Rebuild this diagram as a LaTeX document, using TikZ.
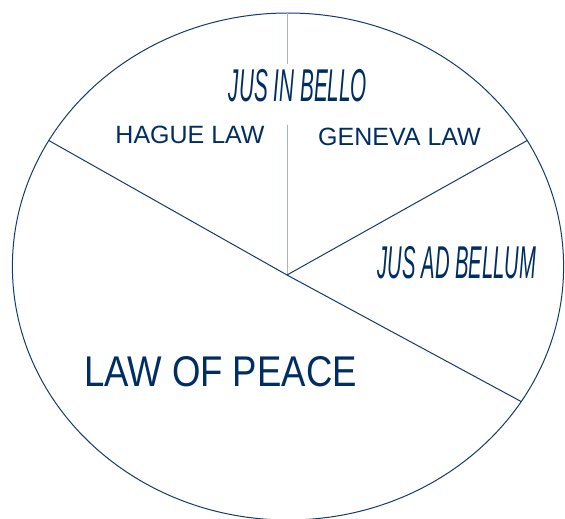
\documentclass[tikz,border=0pt]{standalone}
\usepackage{graphicx}
\usepackage{fontspec}
\setmainfont{Liberation Sans}
\usepackage{xcolor}
\usepackage{tikz}
\usetikzlibrary{calc}
\definecolor{lawnavy}{RGB}{0,46,98}
\definecolor{rimblue}{RGB}{20,58,110}
\definecolor{splitgray}{RGB}{165,180,198}
\tikzstyle{rim} = [draw=rimblue, line width=1pt]
\tikzstyle{split} = [draw=splitgray, line width=0.7pt]
\tikzstyle{lawtext} = [text=lawnavy, inner sep=0pt, anchor=base]
\newcommand{\squeeze}[2]{\scalebox{#1}[1]{#2}}

\begin{document}
\begin{tikzpicture}[x=1pt, y=-1pt]
            \useasboundingbox (0,0) rectangle (565,519);
            % outer ring
            \coordinate (mid) at (288,266.5);
            \draw[rim] (mid) ellipse [x radius=275.6pt, y radius=253.5pt];
            \coordinate (hub) at (287,275);
            \coordinate (rimtop) at (287,13);
            \coordinate (rimleft) at ($(mid)+(150.2:275.6pt and 253.5pt)$);
            \coordinate (rimright) at ($(mid)+(29.8:275.6pt and 253.5pt)$);
            \coordinate (rimlow) at ($(mid)+(-32.2:275.6pt and 253.5pt)$);
            \coordinate (gap) at (287,125);

            % labels
            \node[lawtext, font=\fontsize{46}{46}\selectfont\itshape] (inbello) at (298,101)
                {\squeeze{0.45}{JUS IN BELLO}};
            \node[lawtext, font=\fontsize{25}{25}\selectfont] (hague) at (190,143) {HAGUE LAW};
            \node[lawtext, font=\fontsize{25}{25}\selectfont] (geneva) at (399.5,145) {GENEVA LAW};
            \node[lawtext, font=\fontsize{46}{46}\selectfont\itshape] (adbellum) at (457,278)
                {\squeeze{0.44}{JUS AD BELLUM}};
            \node[lawtext, font=\fontsize{43}{43}\selectfont] (peace) at (220.5,386)
                {\squeeze{0.85}{LAW OF PEACE}};

            % dividers
            \draw[split] (rimtop) -- ($(rimtop |- inbello.north)+(0,-5)$);
            \draw[split] (gap) -- (hub);
            \draw[rim] (rimleft) -- (hub) -- (rimlow);
            \draw[rim] (hub) -- (rimright);
        \end{tikzpicture}
\end{document}
